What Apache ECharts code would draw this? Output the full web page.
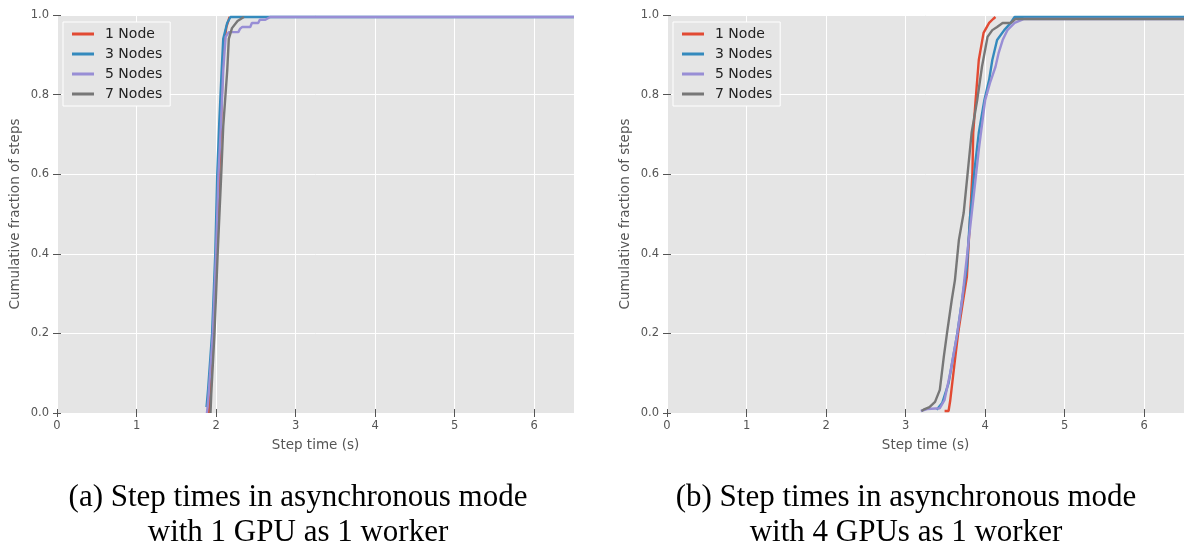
<!DOCTYPE html>
<html>
<head>
<meta charset="utf-8">
<script src="https://cdn.jsdelivr.net/npm/echarts@6/dist/echarts.min.js"></script>
<style>
  html, body { margin: 0; padding: 0; background: #fff; }
  #Chart { width: 1190px; height: 544px; }
</style>
</head>
<body>
<div id="Chart"></div>
<script>
const seriesNames = ["1 Node", "3 Nodes", "5 Nodes", "7 Nodes"]
const colors = ["#E24A33", "#348ABD", "#988ED5", "#777777"]
const xTicks = [0, 1, 2, 3, 4, 5, 6]
const captions = [
  "(a) Step times in asynchronous mode\nwith 1 GPU as 1 worker",
  "(b) Step times in asynchronous mode\nwith 4 GPUs as 1 worker"
]

// (a) 1 GPU as 1 worker: [step time, cumulative fraction]
const gpu1Node1 = [[1.91, 0.0], [1.93, 0.05], [1.97, 0.2], [2.01, 0.4], [2.04, 0.6], [2.065, 0.74], [2.08, 0.85], [2.1, 0.93], [2.13, 0.97], [2.17, 0.995]]
const gpu1Node3 = [[1.88, 0.015], [1.9, 0.06], [1.95, 0.2], [1.99, 0.4], [2.015, 0.6], [2.04, 0.73], [2.07, 0.86], [2.09, 0.94], [2.14, 0.98], [2.18, 0.995], [6.5, 0.995]]
const gpu1Node5 = [[1.885, 0.0], [1.9, 0.03], [1.96, 0.2], [2.0, 0.4], [2.03, 0.6], [2.06, 0.72], [2.09, 0.86], [2.12, 0.945], [2.16, 0.957], [2.28, 0.957], [2.3, 0.965], [2.33, 0.97], [2.43, 0.97], [2.45, 0.98], [2.53, 0.98], [2.55, 0.988], [2.62, 0.988], [2.68, 0.995], [6.5, 0.995]]
const gpu1Node7 = [[1.93, 0.0], [1.94, 0.05], [1.98, 0.2], [2.02, 0.4], [2.065, 0.6], [2.09, 0.72], [2.14, 0.86], [2.16, 0.94], [2.2, 0.967], [2.27, 0.985], [2.35, 0.995]]

// (b) 4 GPUs as 1 worker
const gpu4Node1 = [[3.49, 0.005], [3.54, 0.005], [3.56, 0.03], [3.61, 0.116], [3.66, 0.2], [3.71, 0.266], [3.77, 0.342], [3.8, 0.452], [3.84, 0.603], [3.85, 0.704], [3.88, 0.786], [3.92, 0.887], [3.98, 0.955], [4.05, 0.98], [4.1, 0.99], [4.13, 0.995]]
const gpu4Node3 = [[3.39, 0.008], [3.46, 0.025], [3.54, 0.075], [3.65, 0.2], [3.71, 0.284], [3.77, 0.367], [3.81, 0.492], [3.87, 0.618], [3.92, 0.704], [3.99, 0.786], [4.05, 0.837], [4.09, 0.887], [4.15, 0.937], [4.24, 0.962], [4.32, 0.98], [4.37, 0.995], [6.5, 0.995]]
const gpu4Node5 = [[3.19, 0.005], [3.27, 0.01], [3.43, 0.012], [3.49, 0.033], [3.56, 0.1], [3.65, 0.2], [3.71, 0.284], [3.78, 0.41], [3.85, 0.535], [3.92, 0.661], [4.0, 0.786], [4.06, 0.829], [4.13, 0.87], [4.17, 0.905], [4.22, 0.937], [4.28, 0.962], [4.37, 0.98], [4.49, 0.99], [6.5, 0.99]]
const gpu4Node7 = [[3.2, 0.005], [3.24, 0.01], [3.3, 0.015], [3.37, 0.028], [3.43, 0.058], [3.48, 0.141], [3.52, 0.2], [3.58, 0.284], [3.62, 0.334], [3.67, 0.435], [3.73, 0.503], [3.78, 0.603], [3.83, 0.704], [3.9, 0.786], [3.96, 0.87], [4.03, 0.945], [4.09, 0.962], [4.15, 0.97], [4.22, 0.98], [4.32, 0.98], [4.38, 0.99], [6.5, 0.99]]

const panels = [
  [gpu1Node1, gpu1Node3, gpu1Node5, gpu1Node7],
  [gpu4Node1, gpu4Node3, gpu4Node5, gpu4Node7]
]

const chart = echarts.init(document.getElementById("Chart"), null, { renderer: "canvas" })

const font = "DejaVu Sans"
const tickColor = "#555"
const gridLefts = [57, 667]
// a plain stroke, padded with empty points so it is not stretched
const lineIcon = "path://M0,0 L0,0 Z M0,5.6 L22,5.6 L22,8.4 L0,8.4 Z M22,14 L22,14 Z"

const grid = gridLefts.map(left => ({ left: left, top: 15, width: 517, height: 398, backgroundColor: "#E5E5E5", show: true, borderWidth: 0 }))

const xAxis = []
const yAxis = []
gridLefts.forEach((_, i) => {
  xAxis.push({
    type: "value", gridIndex: i, min: 0, max: 6.5, interval: 1,
    name: "Step time (s)", nameLocation: "middle", nameGap: 25,
    nameTextStyle: { fontFamily: font, fontSize: 13.5, color: tickColor },
    axisLine: { show: false },
    axisTick: { show: true, length: 4, lineStyle: { color: tickColor }, customValues: xTicks },
    axisLabel: { fontFamily: font, fontSize: 11.5, color: tickColor, margin: 7, customValues: xTicks },
    splitLine: { show: true, lineStyle: { color: "#fff", width: 1 } }
  })
  xAxis.push({
    type: "value", gridIndex: i, position: "top", min: 0, max: 6.5, interval: 1,
    axisLine: { show: false },
    axisTick: { show: true, length: 4, lineStyle: { color: tickColor }, customValues: xTicks },
    axisLabel: { show: false },
    splitLine: { show: false }
  })
  yAxis.push({
    type: "value", gridIndex: i, min: 0, max: 1, interval: 0.2,
    name: "Cumulative fraction of steps", nameLocation: "middle", nameGap: 35,
    nameTextStyle: { fontFamily: font, fontSize: 13.5, color: tickColor },
    axisLine: { show: false },
    axisTick: { show: true, length: 4, lineStyle: { color: tickColor } },
    axisLabel: { fontFamily: font, fontSize: 11.5, color: tickColor, margin: 8, formatter: v => v.toFixed(1) },
    splitLine: { show: true, lineStyle: { color: "#fff", width: 1 } }
  })
  yAxis.push({
    type: "value", gridIndex: i, position: "right", min: 0, max: 1, interval: 0.2,
    axisLine: { show: false },
    axisTick: { show: true, length: 4, lineStyle: { color: tickColor } },
    axisLabel: { show: false },
    splitLine: { show: false }
  })
})

const series = []
panels.forEach((panel, i) => {
  panel.forEach((data, k) => {
    series.push({
      name: seriesNames[k],
      type: "line",
      xAxisIndex: i * 2,
      yAxisIndex: i * 2,
      showSymbol: false,
      symbol: "none",
      lineStyle: { width: 2.4, color: colors[k] },
      itemStyle: { color: colors[k] },
      data: data
    })
  })
})

const legend = gridLefts.map(left => ({
  data: seriesNames.map(name => ({ name: name, icon: lineIcon })),
  orient: "vertical",
  left: left + 6,
  top: 22,
  itemWidth: 22,
  itemHeight: 14,
  itemGap: 6,
  padding: [5, 8, 5, 9],
  backgroundColor: "#E5E5E5",
  borderColor: "#fff",
  borderWidth: 1,
  textStyle: { fontFamily: font, fontSize: 14, color: "#222", padding: [0, 0, 0, 6] },
  selectedMode: false
}))

const title = captions.map((text, i) => ({
  text: text,
  left: [293, 901][i],
  top: 475,
  textAlign: "center",
  textStyle: { fontFamily: "Liberation Serif", fontSize: 31, fontWeight: "normal", lineHeight: 35, color: "#000" }
}))

chart.setOption({
  animation: false,
  backgroundColor: "#fff",
  title: title,
  legend: legend,
  grid: grid,
  xAxis: xAxis,
  yAxis: yAxis,
  series: series
})
</script>
</body>
</html>
